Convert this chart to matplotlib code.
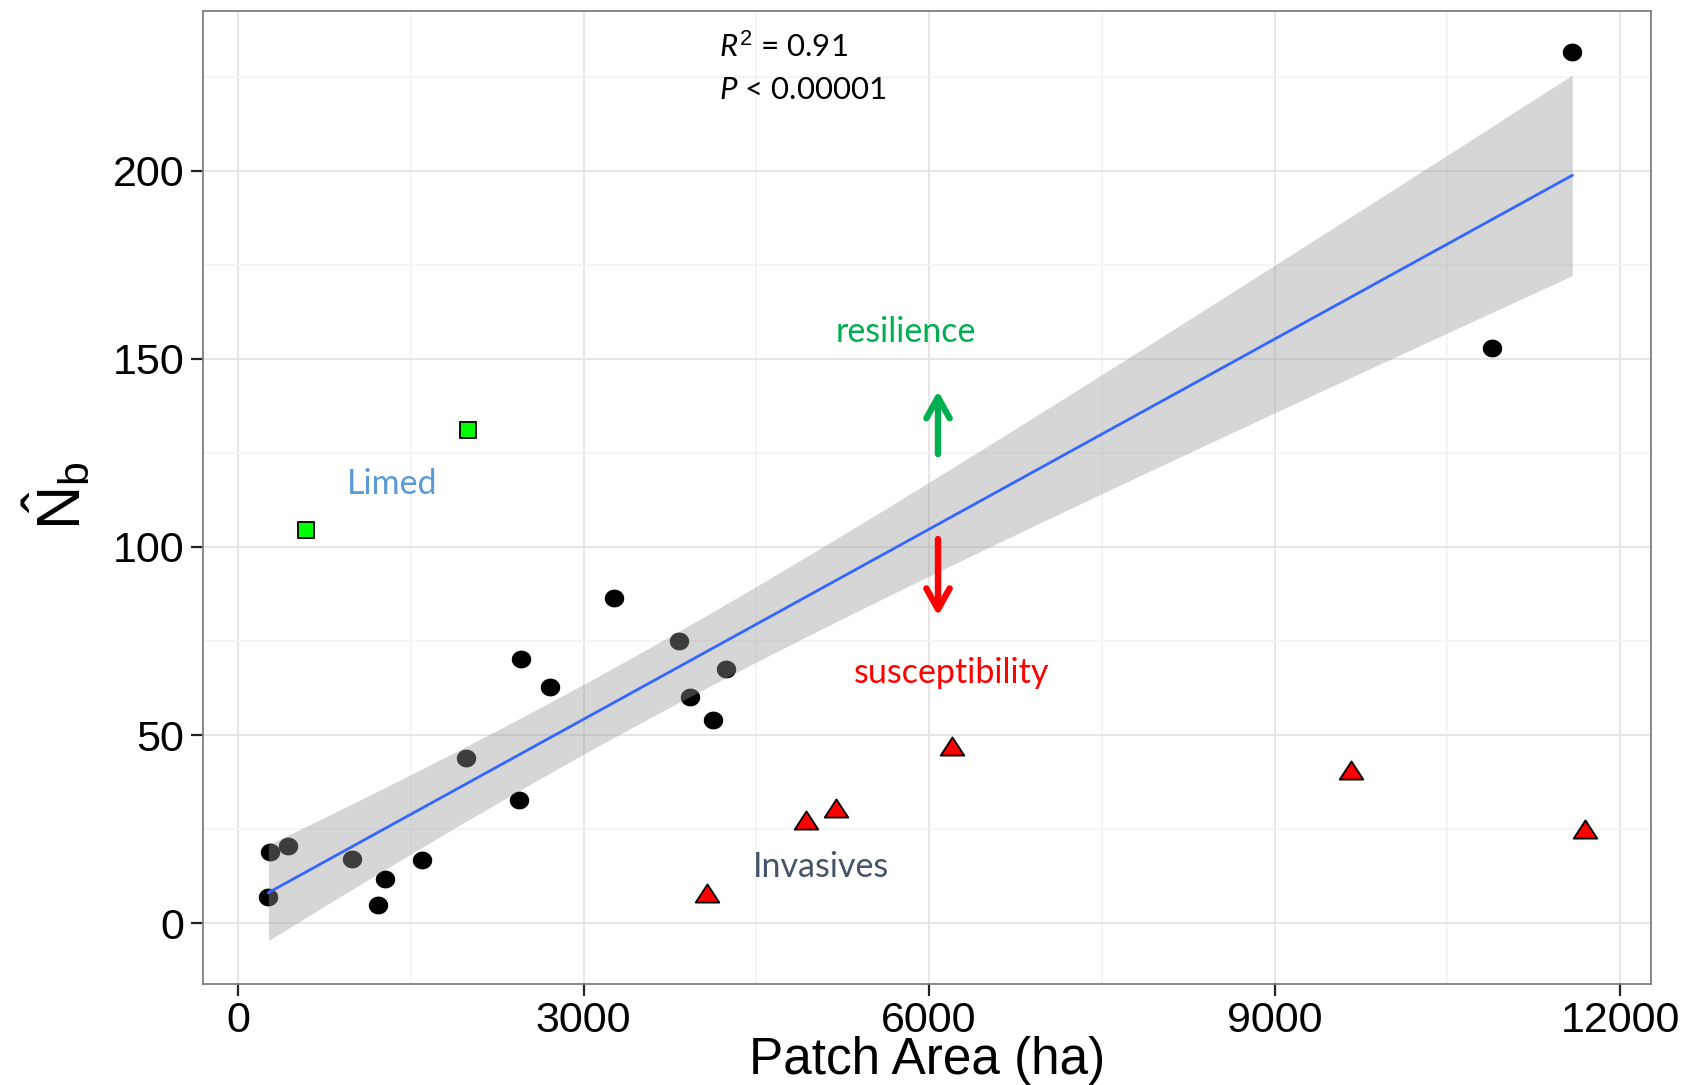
import numpy as np
import matplotlib
matplotlib.use('Agg')
import matplotlib.pyplot as plt
from matplotlib.path import Path

# ---------------- data ----------------
native_x = [11585, 10887, 3264, 3830, 2453, 4236, 2708, 3925, 4123, 1981,
            2443, 274, 434, 991, 1594, 1274, 1217, 264]
native_y = [231.5, 152.9, 86.4, 75.1, 70.2, 67.6, 62.7, 60.1, 54.0, 43.9,
            32.7, 18.8, 20.5, 17.1, 16.8, 11.8, 4.9, 6.9]
limed_x = [594, 1997]
limed_y = [104.6, 131.1]
invasive_x = [4075, 4934, 5189, 6198, 9664, 11698]
invasive_y = [8.1, 27.5, 30.6, 47.1, 40.7, 25.1]

x_ticks = [0, 3000, 6000, 9000, 12000]
y_ticks = [0, 50, 100, 150, 200]

plt.rcParams['mathtext.fontset'] = 'custom'
plt.rcParams['mathtext.rm'] = 'Liberation Sans'
plt.rcParams['mathtext.it'] = 'Lato:italic'
plt.rcParams['font.family'] = ['Liberation Sans', 'DejaVu Sans']

fig = plt.figure(figsize=(17.04, 10.85), dpi=100)
ax = fig.add_axes([203/1704, 1-984/1085, 1448/1704, 973/1085])

# grid
ax.set_xlim(-304, 12269)
ax.set_ylim(-16.2, 242.5)
ax.set_xticks(x_ticks)
ax.set_yticks(y_ticks)
ax.set_xticks([1500, 4500, 7500, 10500], minor=True)
ax.set_yticks([25, 75, 125, 175, 225], minor=True)
ax.grid(which='major', color='#e6e6e6', lw=1.4, zorder=0)
ax.grid(which='minor', color='#f4f4f4', lw=1.2, zorder=0)
ax.set_axisbelow(True)
ax.tick_params(which='minor', length=0)
ax.tick_params(which='major', length=8.5, width=1.6, color='#222222',
               labelsize=31, pad=5)
ax.tick_params(axis='x', pad=4)
for sp in ax.spines.values():
    sp.set_color('#7f7f7f')
    sp.set_linewidth(1.3)

# native points (ellipse marker)
theta = np.linspace(0, 2*np.pi, 60)
ell = Path(np.column_stack([1.1*np.cos(theta), np.sin(theta)]))
ax.plot(native_x, native_y, ls='none', marker=ell, markersize=13,
        color='black', zorder=2)

# regression + CI ribbon
xn = np.array(native_x, float)
yn = np.array(native_y, float)
slope, intercept = np.polyfit(xn, yn, 1)
xs = np.linspace(xn.min(), xn.max(), 200)
fit = slope*xs + intercept
n = len(xn)
resid = yn - (slope*xn + intercept)
s = np.sqrt(np.sum(resid**2)/(n-2))
sxx = np.sum((xn - xn.mean())**2)
se = s*np.sqrt(1/n + (xs - xn.mean())**2/sxx)
tval = 2.1199
ax.fill_between(xs, fit - tval*se, fit + tval*se, color='#999999',
                alpha=0.4, lw=0, zorder=3)
ax.plot(xs, fit, color='#3366ff', lw=2.0, zorder=4)

# limed squares
ax.plot(limed_x, limed_y, ls='none', marker='s', markersize=11.5,
        markerfacecolor='#00ff00', markeredgecolor='black', mew=1.3, zorder=5)
# invasive triangles
tri = Path([(0, 0.77), (-1, -0.77), (1, -0.77), (0, 0.77)],
           [Path.MOVETO, Path.LINETO, Path.LINETO, Path.CLOSEPOLY])
ax.plot(invasive_x, invasive_y, ls='none', marker=tri, markersize=17,
        markerfacecolor='#ff0000', markeredgecolor='black', mew=1.3, zorder=5)

# annotations
ann_font = ['Lato', 'DejaVu Sans']
ax.text(4179, 233.0, r'$R^{2}$ = 0.91', fontsize=22.5, family=ann_font,
        ha='left', va='center', zorder=6)
ax.text(4179, 221.5, r'$P$ < 0.00001', fontsize=22.5, family=ann_font,
        ha='left', va='center', zorder=6)
ax.text(5802, 157.2, 'resilience', color='#00b050', fontsize=24.5,
        family=ann_font, ha='center', va='center', zorder=6)
ax.text(6198, 66.5, 'susceptibility', color='#ff0000', fontsize=24.5,
        family=ann_font, ha='center', va='center', zorder=6)
ax.text(1340, 116.8, 'Limed', color='#5b9bd5', fontsize=24.5,
        family=ann_font, ha='center', va='center', zorder=6)
ax.text(5066, 15.0, 'Invasives', color='#44546a', fontsize=24.5,
        family=ann_font, ha='center', va='center', zorder=6)

arrow_style = '->,head_length=0.75,head_width=0.42'
ax.annotate('', xy=(6078, 141.5), xytext=(6078, 124.7),
            arrowprops=dict(arrowstyle=arrow_style, color='#00b050', lw=4.6,
                            mutation_scale=20, shrinkA=0, shrinkB=0,
                            capstyle='round', joinstyle='round'), zorder=6)
ax.annotate('', xy=(6078, 81.7), xytext=(6078, 102.1),
            arrowprops=dict(arrowstyle=arrow_style, color='#ff0000', lw=4.6,
                            mutation_scale=20, shrinkA=0, shrinkB=0,
                            capstyle='round', joinstyle='round'), zorder=6)

# axis labels
ax.set_xlabel('Patch Area (ha)', fontsize=37, va='baseline')
ax.xaxis.set_label_coords(0.5, (984-1074)/973)
ax.set_ylabel(r'$\hat{\mathrm{N}}_{\mathrm{b}}$', fontsize=44, va='center')
ax.yaxis.set_label_coords((57-203)/1448, (984-496)/973)

fig.savefig('out.png', dpi=100)
